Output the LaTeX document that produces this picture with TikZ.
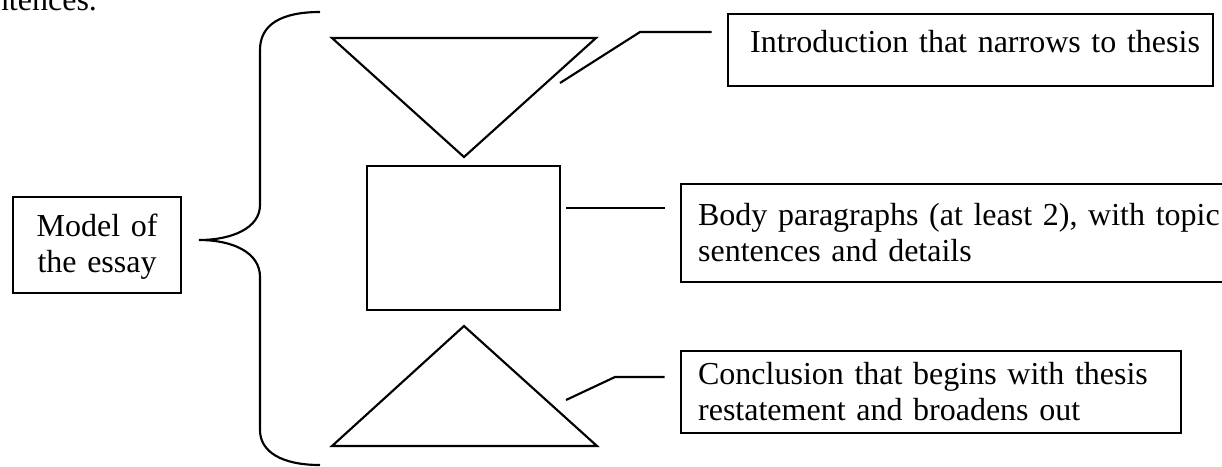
\documentclass[tikz,border=0pt]{standalone}
\usepackage{fontspec}
\setmainfont{Liberation Serif}

\begin{document}
\begin{tikzpicture}[x=0.375pt, y=-0.375pt, line width=0.8pt,
    textbox/.style={draw, anchor=north west, align=left, inner ysep=0pt,
        font=\fontsize{12}{13.8}\selectfont},
    link/.style={shorten >=5.8pt}]

        \useasboundingbox (0,0) rectangle (1222,466);

        % Line of text cut off above
        \node[anchor=base east, inner sep=0pt, font=\fontsize{12}{13.8}\selectfont]
            (prevline) at (98,10) {sentences.};

        % Brace
        \draw (320,12)
            .. controls (282,12) and (260,24) .. (260,50)
            -- (260,205)
            .. controls (260,228) and (232,240) .. (199,240)
            .. controls (232,240) and (260,252) .. (260,277)
            -- (260,430)
            .. controls (260,452) and (282,465) .. (320,465);

        % Essay shapes
        \draw (332,38) -- (596,38) -- (464,157) -- cycle;
        \draw (367,166) rectangle (560,310);
        \draw (464,326) -- (597,446) -- (332,446) -- cycle;

        % Text boxes
        \node[textbox, align=center, inner xsep=6.5pt, text width=50pt,
              text height=14.6pt, text depth=21.4pt]
            (model) at (12,196) {Model of\\the essay};
        \node[textbox, align=right, inner xsep=4.95pt, text width=172pt,
              text height=14.3pt, text depth=12.7pt]
            (intro) at (727,13) {Introduction that narrows to thesis};
        \node[textbox, inner xsep=6.4pt, text width=200pt,
              text height=15.4pt, text depth=21.4pt]
            (body) at (680,183) {Body paragraphs (at least 2), with topic\\sentences and details};
        \node[textbox, inner xsep=6.4pt, text width=174.7pt,
              text height=12.4pt, text depth=18.4pt]
            (concl) at (680,350) {Conclusion that begins with thesis\\restatement and broadens out};

        % Connectors
        \coordinate (introtip) at (560,83);
        \coordinate (introbend) at (640,32);
        \coordinate (bodytip) at (566,208);
        \coordinate (concltip) at (566,400);
        \coordinate (conclbend) at (615,377);

        \draw[link] (introtip) -- (introbend) -- (introbend -| intro.west);
        \draw[link] (bodytip) -- (bodytip -| body.west);
        \draw[link] (concltip) -- (conclbend) -- (conclbend -| concl.west);

\end{tikzpicture}
\end{document}
